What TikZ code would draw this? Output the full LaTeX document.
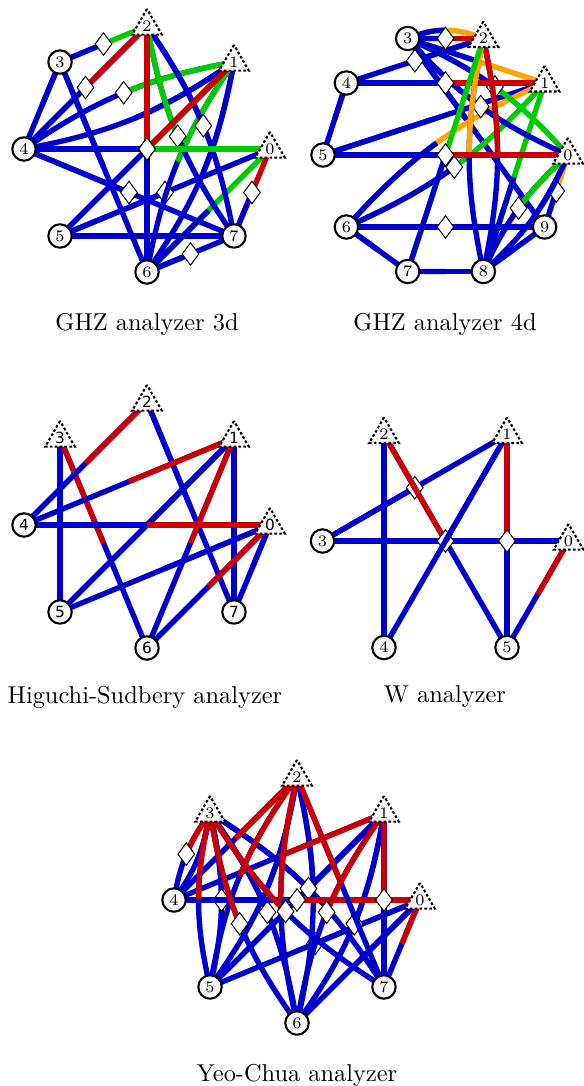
\documentclass[tikz,border=0pt]{standalone}
\usepackage{fontspec}
\newfontfamily\dejavu{DejaVu Sans}
\usetikzlibrary{shapes.geometric,calc}
\pgfdeclarelayer{bg}
\pgfsetlayers{bg,main}
\definecolor{eb}{RGB}{0,0,204}
\definecolor{er}{RGB}{204,0,0}
\definecolor{eg}{RGB}{0,204,0}
\definecolor{eo}{RGB}{255,165,0}
\tikzset{
 edge/.style={line width=2.2pt},
 vc/.style={circle, draw, line width=0.85pt, fill=gray!4, minimum size=9.6pt, inner sep=0pt, font=\fontsize{6.6}{7}\selectfont},
 vt/.style={regular polygon, regular polygon sides=3, draw, line width=0.85pt, dash pattern=on 1.1pt off 0.9pt, fill=gray!4, minimum size=14pt, inner sep=0pt, font=\fontsize{6.6}{7}\selectfont},
 sansv/.style={font=\dejavu\fontsize{6.3}{7}\selectfont},
 bs/.style={diamond, draw, line width=0.4pt, fill=white, minimum width=7pt, minimum height=9.4pt, inner sep=0pt},
 captext/.style={font=\fontsize{10}{12}\selectfont}
}
% straight edge: from, to, colour near from, colour near to, diamond (0/1)
\newcommand\SE[5]{%
 \draw[edge,#4] (#1.center) -- (#2.center);
 \draw[edge,#3] (#1.center) -- ($(#1.center)!0.5!(#2.center)$);
 \ifnum#5=1 \node[bs] at ($(#1.center)!0.5!(#2.center)$) {};\fi}
% bent edge: from, to, bend angle, colour near from, colour near to, diamond (0/1)
\newcommand\BE[6]{%
 \pgfmathsetmacro\bangb{-(#3)}%
 \coordinate (bA) at (#1.center);
 \coordinate (bB) at (#2.center);
 \coordinate (bC1) at ($(bA)!0.3915!#3:(bB)$);
 \coordinate (bC2) at ($(bB)!0.3915!\bangb:(bA)$);
 \coordinate (bq1) at ($(bA)!0.5!(bC1)$);
 \coordinate (bq2) at ($(bC1)!0.5!(bC2)$);
 \coordinate (bq3) at ($(bC2)!0.5!(bB)$);
 \coordinate (br1) at ($(bq1)!0.5!(bq2)$);
 \coordinate (br2) at ($(bq2)!0.5!(bq3)$);
 \coordinate (bM) at ($(br1)!0.5!(br2)$);
 \draw[edge,#5] (#1.center) .. controls (bC1) and (bC2) .. (#2.center);
 \draw[edge,#4] (#1.center) .. controls (bq1) and (br1) .. (bM);
 \ifnum#6=1 \node[bs] at (bM) {};\fi}
\begin{document}
\begin{tikzpicture}[x=0.41pt,y=0.41pt]
\useasboundingbox (0,0) rectangle (583,-1086);
% ---------- panel 1: GHZ analyzer 3d ----------
\foreach \k in {0,1,2} \node[vt] (a\k) at ($(147,-149)+(\k*45:123)$) {\k};
\foreach \k in {3,...,7} \node[vc] (a\k) at ($(147,-149)+(\k*45:123)$) {\k};
% ---------- panel 2: GHZ analyzer 4d ----------
\foreach \k in {0,1,2} \node[vt] (b\k) at ($(445.5,-155)+(\k*36:122.5)$) {\k};
\foreach \k in {3,...,9} \node[vc] (b\k) at ($(445.5,-155)+(\k*36:122.5)$) {\k};
% ---------- panel 3: Higuchi-Sudbery ----------
\foreach \k in {0,1,2,3} \node[vt,sansv] (c\k) at ($(147,-525)+(\k*45:123)$) {\k};
\foreach \k in {4,...,7} \node[vc,sansv] (c\k) at ($(147,-525)+(\k*45:123)$) {\k};
% ---------- panel 4: W analyzer ----------
\foreach \k in {0,1,2} \node[vt] (d\k) at ($(445.5,-541)+(\k*60:123)$) {\k};
\foreach \k in {3,4,5} \node[vc] (d\k) at ($(445.5,-541)+(\k*60:123)$) {\k};
% ---------- panel 5: Yeo-Chua ----------
\foreach \k in {0,1,2,3} \node[vt] (e\k) at ($(297,-900)+(\k*45:123)$) {\k};
\foreach \k in {4,...,7} \node[vc] (e\k) at ($(297,-900)+(\k*45:123)$) {\k};
% captions
\node[captext] (t1) at (147,-324) {GHZ analyzer 3d};
\node[captext] (t2) at (445,-324) {GHZ analyzer 4d};
\node[captext] (t3) at (145,-697) {Higuchi-Sudbery analyzer};
\node[captext] (t4) at (445,-697) {W analyzer};
\node[captext] (t5) at (297,-1075) {Yeo-Chua analyzer};
\begin{pgfonlayer}{bg}
% panel 1
\SE{a3}{a4}{eb}{eb}{0}
\SE{a3}{a6}{eb}{eb}{0}
\SE{a4}{a7}{eb}{eb}{1}
\SE{a5}{a0}{eb}{eb}{1}
\SE{a5}{a7}{eb}{eb}{0}
\SE{a6}{a7}{eb}{eb}{1}
\SE{a6}{a0}{eb}{eg}{0}
\SE{a7}{a0}{eb}{er}{1}
\BE{a1}{a4}{12}{eb}{eb}{0}
\BE{a1}{a4}{-12}{eg}{eb}{1}
\BE{a1}{a6}{12}{eb}{eb}{0}
\BE{a1}{a6}{-12}{eg}{eb}{0}
\BE{a2}{a7}{12}{eb}{eb}{1}
\BE{a2}{a7}{-12}{eg}{eb}{1}
\SE{a3}{a2}{eb}{eg}{1}
\SE{a2}{a4}{er}{eb}{1}
\SE{a2}{a6}{er}{eb}{0}
\SE{a4}{a0}{eb}{eg}{1}
\SE{a1}{a5}{er}{eb}{1}
% panel 2
\SE{b4}{b5}{eb}{eb}{0}
\SE{b6}{b7}{eb}{eb}{0}
\SE{b7}{b8}{eb}{eb}{0}
\SE{b8}{b9}{eb}{eb}{0}
\SE{b6}{b9}{eb}{eb}{1}
\SE{b3}{b9}{eb}{eb}{0}
\SE{b5}{b1}{eb}{eb}{0}
\SE{b9}{b0}{eb}{eo}{1}
\SE{b8}{b1}{eb}{eg}{0}
\BE{b0}{b8}{12}{eb}{eb}{0}
\BE{b0}{b8}{-12}{eg}{eb}{1}
\BE{b6}{b1}{12}{eb}{eo}{0}
\BE{b6}{b1}{-12}{eb}{eg}{1}
\BE{b3}{b0}{12}{eb}{eg}{1}
\BE{b3}{b0}{-12}{eb}{eb}{1}
\SE{b3}{b1}{eb}{eo}{0}
\SE{b2}{b4}{eb}{eb}{1}
\SE{b4}{b1}{eb}{er}{1}
\BE{b2}{b8}{12}{er}{eb}{0}
\BE{b2}{b8}{-12}{eo}{eb}{0}
\SE{b7}{b2}{eb}{eg}{0}
\SE{b5}{b0}{eb}{er}{1}
\BE{b3}{b2}{22}{eb}{eo}{0}
\SE{b3}{b2}{eb}{er}{1}
% panel 3
\SE{c3}{c5}{eb}{eb}{0}
\SE{c1}{c7}{eb}{eb}{0}
\SE{c2}{c7}{eb}{eb}{0}
\SE{c1}{c5}{eb}{eb}{0}
\SE{c0}{c5}{eb}{eb}{0}
\SE{c0}{c7}{eb}{eb}{0}
\SE{c3}{c6}{er}{eb}{0}
\SE{c2}{c4}{er}{eb}{0}
\SE{c1}{c4}{er}{eb}{0}
\SE{c1}{c6}{er}{eb}{0}
\SE{c0}{c4}{er}{eb}{0}
\SE{c0}{c6}{er}{eb}{0}
% panel 4
\SE{d2}{d4}{eb}{eb}{0}
\SE{d3}{d0}{eb}{eb}{0}
\SE{d3}{d1}{eb}{eb}{1}
\SE{d2}{d5}{er}{eb}{1}
\SE{d1}{d4}{eb}{eb}{0}
\SE{d1}{d5}{er}{eb}{1}
\SE{d0}{d5}{er}{eb}{0}
% panel 5
\SE{e0}{e5}{eb}{eb}{1}
\SE{e0}{e6}{eb}{eb}{0}
\SE{e1}{e5}{eb}{eb}{0}
\BE{e2}{e5}{13}{eb}{eb}{0}
\BE{e2}{e6}{13}{eb}{eb}{0}
\BE{e3}{e4}{13}{eb}{eb}{0}
\BE{e3}{e5}{13}{eb}{eb}{1}
\BE{e3}{e6}{13}{eb}{eb}{1}
\BE{e3}{e7}{13}{eb}{eb}{1}
\BE{e1}{e6}{13}{eb}{eb}{1}
\SE{e4}{e0}{eb}{er}{1}
\SE{e0}{e7}{er}{eb}{0}
\SE{e1}{e7}{er}{eb}{1}
\SE{e1}{e4}{er}{eb}{0}
\SE{e2}{e4}{er}{eb}{0}
\SE{e2}{e7}{er}{eb}{0}
\BE{e2}{e5}{-13}{er}{eb}{0}
\BE{e2}{e6}{-13}{er}{eb}{0}
\BE{e3}{e4}{-13}{er}{eb}{1}
\BE{e3}{e5}{-13}{er}{eb}{0}
\BE{e3}{e6}{-13}{er}{eb}{1}
\BE{e3}{e7}{-13}{er}{eb}{1}
\BE{e1}{e6}{-13}{er}{eb}{1}
\end{pgfonlayer}
\end{tikzpicture}
\end{document}
